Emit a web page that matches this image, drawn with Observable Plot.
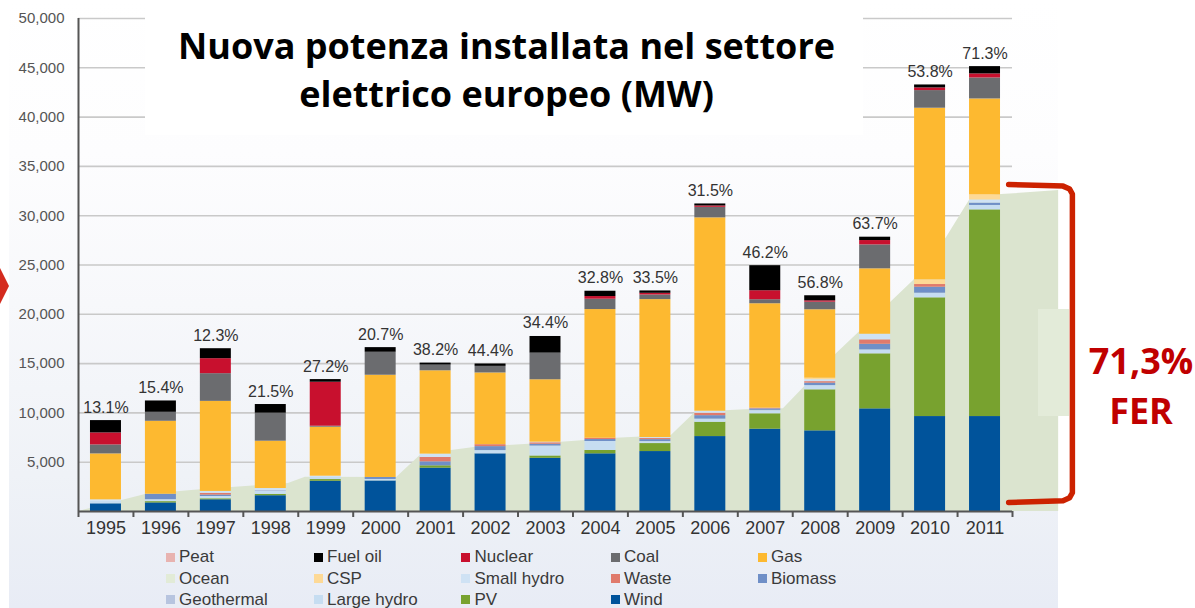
<!DOCTYPE html>
<html><head><meta charset="utf-8">
<script src="https://cdn.jsdelivr.net/npm/d3@7"></script>
<script src="https://cdn.jsdelivr.net/npm/@observablehq/plot@0.6"></script>
<style>
html,body{margin:0;padding:0;overflow:hidden;background:#fff;}
#wrap{position:relative;width:1195px;height:608px;overflow:hidden;background:#fff;}
#bg{position:absolute;left:9px;top:0;width:1049px;height:608px;background:linear-gradient(to bottom,#ffffff 0%,#fdfdfe 25%,#f7f8fb 50%,#eff2f7 78%,#e8ecf5 100%);}
#chart{position:absolute;left:0;top:0;}
#titlebox{position:absolute;left:145px;top:0;width:718px;height:135px;background:#fff;}
#title{position:absolute;left:145px;top:22px;width:723px;text-align:center;font:700 36px/48px "Open Sans",sans-serif;color:#000;white-space:nowrap;}
#fer{position:absolute;left:1080px;top:336px;width:122px;text-align:center;font:700 36px/50px "Open Sans",sans-serif;color:#c00000;}
#artifact{position:absolute;left:1038px;top:309px;width:31px;height:107px;background:#e3ebd9;}
#arrow{position:absolute;left:0;top:268px;width:9px;height:36px;background:#d42b1e;clip-path:polygon(0 0,100% 50%,0 100%);}
#legend{position:absolute;left:0;top:545px;width:1195px;height:63px;}
.li{position:absolute;font:17px "Liberation Sans",Arial,sans-serif;color:#3a3a3a;white-space:nowrap;line-height:20px;}
.sw{position:absolute;width:9px;height:9px;}
</style></head>
<body>
<div id="wrap">
  <div id="bg"></div>
  <div id="chart"></div>
  <div id="titlebox"></div>
  <div id="title">Nuova potenza installata nel settore<br>elettrico europeo (MW)</div>
  <div id="artifact"></div>
  <div id="fer">71,3%<br>FER</div>
  <div id="arrow"></div>
  <div id="legend"></div>
</div>
<script>
const years = [1995,1996,1997,1998,1999,2000,2001,2002,2003,2004,2005,2006,2007,2008,2009,2010,2011];
const pctLabels = ["13.1%","15.4%","12.3%","21.5%","27.2%","20.7%","38.2%","44.4%","34.4%","32.8%","33.5%","31.5%","46.2%","56.8%","63.7%","53.8%","71.3%"];

const wind       = [780, 870, 1190, 1600, 3070, 3100, 4400, 5850, 5400, 5850, 6080, 7600, 8350, 8180, 10410, 9630, 9630];
const pv         = [0, 130, 100, 130, 170, 0, 230, 0, 230, 340, 810, 1450, 1560, 4160, 5580, 12040, 20960];
const largeHydro = [250, 200, 230, 300, 200, 150, 0, 330, 1010, 910, 200, 320, 300, 430, 400, 470, 450];
const geothermal = [0, 0, 0, 100, 0, 0, 0, 0, 0, 0, 0, 0, 50, 0, 0, 0, 0];
const biomass    = [0, 550, 150, 0, 0, 200, 410, 400, 180, 200, 200, 350, 150, 250, 570, 610, 240];
const waste      = [0, 0, 170, 0, 0, 0, 440, 200, 150, 130, 110, 250, 70, 150, 450, 270, 0];
const smallHydro = [150, 0, 200, 200, 140, 0, 340, 0, 60, 0, 100, 200, 0, 200, 570, 0, 320];
const csp        = [0, 0, 0, 0, 0, 0, 0, 0, 0, 0, 0, 0, 0, 150, 0, 480, 510];
const ocean      = [0, 0, 0, 0, 0, 0, 0, 0, 0, 0, 0, 0, 0, 0, 0, 0, 0];
const peat       = [0, 0, 0, 0, 0, 0, 0, 0, 0, 0, 0, 0, 0, 0, 0, 0, 0];
const gas        = [4660, 7400, 9130, 4800, 4970, 10370, 8450, 7270, 6330, 13050, 13990, 19610, 10590, 6940, 6630, 17400, 9730];
const coal       = [910, 910, 2810, 2840, 100, 2330, 580, 670, 2700, 1050, 470, 1070, 410, 770, 2430, 1790, 2130];
const nuclear    = [1220, 0, 1520, 0, 4460, 0, 0, 0, 0, 270, 170, 140, 910, 140, 440, 270, 410];
const fuelOil    = [1250, 1150, 1010, 880, 270, 470, 200, 240, 1690, 540, 240, 200, 2540, 510, 340, 300, 740];

// stacking order, bottom to top
const stackNames = ["Wind","PV","Large hydro","Geothermal","Biomass","Waste","Small hydro","CSP","Ocean","Peat","Gas","Coal","Nuclear","Fuel oil"];
const stackValues = [wind, pv, largeHydro, geothermal, biomass, waste, smallHydro, csp, ocean, peat, gas, coal, nuclear, fuelOil];
const stackColors = ["#00539b","#78a22f","#c6ddf1","#b7c4df","#6f8fc7","#e07a6c","#cfe2f4","#fdd996","#e2ebd7","#e8b3b0","#fdb930","#6b6c6f","#c8102e","#000000"];

// legend order (row by row, 5 columns)
const legendNames = ["Peat","Fuel oil","Nuclear","Coal","Gas","Ocean","CSP","Small hydro","Waste","Biomass","Geothermal","Large hydro","PV","Wind"];

// light green backdrop (renewable share area)
const areaYears = [1994.5, 1995.72, 1996.72, 1998.32, 1998.63, 2000.29, 2000.72, 2001.29, 2001.74, 2002.29, 2003.29, 2004.29, 2005.29, 2005.73, 2006.64, 2007.33, 2008.30, 2009.30, 2009.70, 2010.30, 2010.75, 2011.30, 2012.34];
const areaMW    = [0, 1720, 2200, 2840, 3480, 3450, 5680, 6190, 6520, 6690, 7030, 7430, 7710, 10070, 10310, 10410, 16020, 21290, 23420, 27780, 31840, 32140, 32550];

// red bracket
const bracketYears = [2011.43, 2012.42, 2012.54, 2012.59, 2012.59, 2012.54, 2012.42, 2011.43];
const bracketMW    = [33160, 33000, 32700, 32200, 1900, 1400, 1100, 910];

const yTicks = [5000,10000,15000,20000,25000,30000,35000,40000,45000,50000];

const rows = [];
years.forEach((yr, i) => stackNames.forEach((s, k) => rows.push({year: yr, source: s, mw: stackValues[k][i]})));
const totals = years.map((yr, i) => ({year: yr, total: d3.sum(stackValues, v => v[i]), pct: pctLabels[i]}));
const area = areaYears.map((x, i) => ({x, y: areaMW[i]}));
const bracket = bracketYears.map((x, i) => ({x, y: bracketMW[i]}));
const boundaries = [...years.map(y => y - 0.5), years[years.length - 1] + 0.5];
const half = 0.282;

const chart = Plot.plot({
  width: 1195, height: 545,
  marginLeft: 78, marginRight: 183, marginTop: 18, marginBottom: 34,
  style: {background: "transparent", overflow: "visible", fontFamily: "'Liberation Sans', Arial, sans-serif"},
  x: {type: "linear", domain: [1994.5, 2011.5], axis: null},
  y: {domain: [0, 50000], axis: null},
  color: {domain: stackNames, range: stackColors},
  marks: [
    Plot.gridY(yTicks, {stroke: "#c9c9c9", strokeOpacity: 1, strokeWidth: 1.6}),
    Plot.areaY(area, {x: "x", y: "y", fill: "#dbe4cf", curve: "linear"}),
    Plot.rectY(rows, Plot.stackY({x1: d => d.year - half, x2: d => d.year + half, y: "mw", fill: "source"})),
    Plot.ruleX([1994.5], {y1: 0, y2: 50000, stroke: "#555", strokeWidth: 2}),
    Plot.ruleY([0], {x1: 1994.5, x2: 2011.5, stroke: "#555", strokeWidth: 2}),
    Plot.axisX(boundaries, {tickSize: 6, tickFormat: () => "", color: "#555", strokeWidth: 2}),
    Plot.text(years, {x: d => d, y: 0, text: d => String(d), dy: 10, lineAnchor: "top", fontSize: 18, fill: "#333", fontFamily: "'Liberation Sans', Arial, sans-serif"}),
    Plot.axisY(yTicks, {tickSize: 0, tickPadding: 14, tickFormat: d3.format(","), fontSize: 15, color: "#555"}),
    Plot.text(totals, {x: "year", y: "total", text: "pct", dy: -8, lineAnchor: "bottom", fontSize: 16, fontFamily: "'Liberation Sans Narrow', 'Arial Narrow', sans-serif", fill: "#333"}),
    Plot.line(bracket, {x: "x", y: "y", stroke: "#cc2200", strokeWidth: 5.5, strokeLinejoin: "round", curve: "linear"})
  ]
});
document.getElementById("chart").appendChild(chart);

const legend = document.getElementById("legend");
const colX = [165.5, 313.5, 461, 610.5, 757.5];
const rowY = [557, 578.5, 599.5];
legendNames.forEach((name, i) => {
  const c = i % 5, r = Math.floor(i / 5);
  const color = stackColors[stackNames.indexOf(name)];
  const sw = document.createElement("div");
  sw.className = "sw";
  sw.style.left = colX[c] + "px";
  sw.style.top = (rowY[r] - 545 - 4.5) + "px";
  sw.style.background = color;
  legend.appendChild(sw);
  const t = document.createElement("div");
  t.className = "li";
  t.textContent = name;
  t.style.left = (colX[c] + 13.5) + "px";
  t.style.top = (rowY[r] - 545 - 10) + "px";
  legend.appendChild(t);
});
</script>
</body></html>
